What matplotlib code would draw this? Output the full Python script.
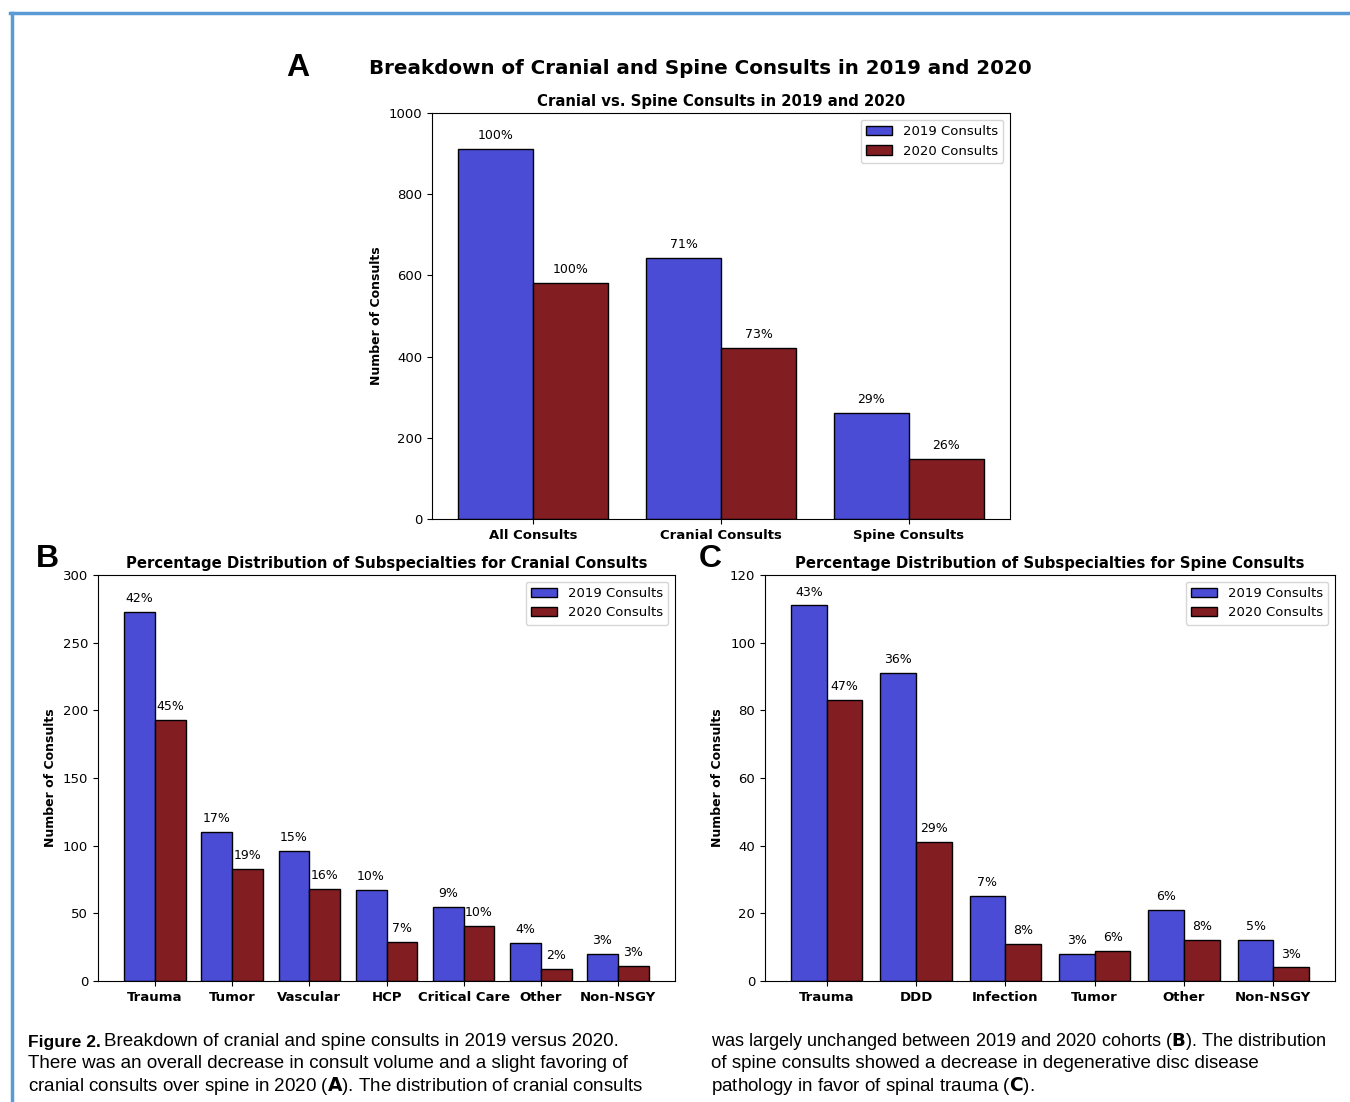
import numpy as np
import matplotlib
matplotlib.use('Agg')
import matplotlib.pyplot as plt
from matplotlib.lines import Line2D

# panel A
a_cats = ['All Consults', 'Cranial Consults', 'Spine Consults']
a_2019 = [912, 643, 261]
a_2020 = [581, 421, 148]
a_pct_2019 = ['100%', '71%', '29%']
a_pct_2020 = ['100%', '73%', '26%']

# panel B
b_cats = ['Trauma', 'Tumor', 'Vascular', 'HCP', 'Critical Care', 'Other', 'Non-NSGY']
b_2019 = [273, 110, 96, 67, 55, 28, 20]
b_2020 = [193, 83, 68, 29, 41, 9, 11]
b_pct_2019 = ['42%', '17%', '15%', '10%', '9%', '4%', '3%']
b_pct_2020 = ['45%', '19%', '16%', '7%', '10%', '2%', '3%']

# panel C
c_cats = ['Trauma', 'DDD', 'Infection', 'Tumor', 'Other', 'Non-NSGY']
c_2019 = [111, 91, 25, 8, 21, 12]
c_2020 = [83, 41, 11, 9, 12, 4]
c_pct_2019 = ['43%', '36%', '7%', '3%', '6%', '5%']
c_pct_2020 = ['47%', '29%', '8%', '6%', '8%', '3%']

blue = '#4a4cd6'
red = '#821d21'

fig = plt.figure(figsize=(13.5, 11.02), dpi=100)


def draw_panel(ax, cats, v19, v20, p19, p20, title, ymax, yticks):
    x = np.arange(len(cats))
    w = 0.4
    b1 = ax.bar(x - w / 2, v19, w, color=blue, edgecolor='black', linewidth=1,
                label='2019 Consults')
    b2 = ax.bar(x + w / 2, v20, w, color=red, edgecolor='black', linewidth=1,
                label='2020 Consults')
    ax.bar_label(b1, labels=p19, padding=5, fontsize=9)
    ax.bar_label(b2, labels=p20, padding=5, fontsize=9)
    ax.set_xticks(x)
    ax.set_xticklabels(cats, fontweight='bold', fontsize=9.5)
    ax.set_ylim(0, ymax)
    ax.set_yticks(yticks)
    ax.tick_params(axis='y', labelsize=9.5)
    ax.set_ylabel('Number of Consults', fontweight='bold', fontsize=9)
    ax.set_title(title, fontweight='bold', fontsize=10.7, pad=5)
    ax.legend(loc='upper right', fontsize=9.5, handlelength=2, borderaxespad=0.5)


ax_a = fig.add_axes([0.32, 0.529, 0.4281, 0.3684])
draw_panel(ax_a, a_cats, a_2019, a_2020, a_pct_2019, a_pct_2020,
           'Cranial vs. Spine Consults in 2019 and 2020', 1000,
           [0, 200, 400, 600, 800, 1000])

ax_b = fig.add_axes([0.0726, 0.1098, 0.4274, 0.3684])
draw_panel(ax_b, b_cats, b_2019, b_2020, b_pct_2019, b_pct_2020,
           'Percentage Distribution of Subspecialties for Cranial Consults', 300,
           [0, 50, 100, 150, 200, 250, 300])

ax_c = fig.add_axes([0.5667, 0.1098, 0.4222, 0.3684])
draw_panel(ax_c, c_cats, c_2019, c_2020, c_pct_2019, c_pct_2020,
           'Percentage Distribution of Subspecialties for Spine Consults', 120,
           [0, 20, 40, 60, 80, 100, 120])

fig.text(0.5185, 0.938, 'Breakdown of Cranial and Spine Consults in 2019 and 2020',
         ha='center', va='center', fontsize=14.3, fontweight='bold')

for letter, lx, ly in [('A', 298, 68), ('B', 47, 559), ('C', 710, 559)]:
    fig.text(lx / 1350, 1 - ly / 1102, letter, ha='center', va='center',
             fontsize=23, fontweight='bold', family='Liberation Sans')

# caption
cap_font = dict(fontsize=13.5, family='Liberation Sans', va='center', ha='left')
left_lines = ['Breakdown of cranial and spine consults in 2019 versus 2020.',
              'There was an overall decrease in consult volume and a slight favoring of',
              'cranial consults over spine in 2020 ($\\mathbf{A}$). The distribution of cranial consults']
fig.text(28 / 1350, 1 - 1042 / 1102, 'Figure 2.', fontweight='bold',
         **dict(cap_font, fontsize=12.5))
fig.text(104 / 1350, 1 - 1042 / 1102, left_lines[0], **cap_font)
fig.text(28 / 1350, 1 - 1064 / 1102, left_lines[1], **cap_font)
fig.text(28 / 1350, 1 - 1086 / 1102, left_lines[2], **cap_font)
right_lines = ['was largely unchanged between 2019 and 2020 cohorts ($\\mathbf{B}$). The distribution',
               'of spine consults showed a decrease in degenerative disc disease',
               'pathology in favor of spinal trauma ($\\mathbf{C}$).']
for i, line in enumerate(right_lines):
    size = 13.1 if i == 0 else 13.5
    fig.text(711 / 1350, 1 - (1042 + 22 * i) / 1102, line, **dict(cap_font, fontsize=size))

# frame lines
border = '#5b9bd5'
fig.add_artist(Line2D([10 / 1350, 1], [1 - 13 / 1102, 1 - 13 / 1102],
                      color=border, linewidth=2.5, transform=fig.transFigure))
fig.add_artist(Line2D([11.5 / 1350, 11.5 / 1350], [0, 1 - 13 / 1102],
                      color=border, linewidth=2.5, transform=fig.transFigure))

fig.savefig('out.png', dpi=100)
